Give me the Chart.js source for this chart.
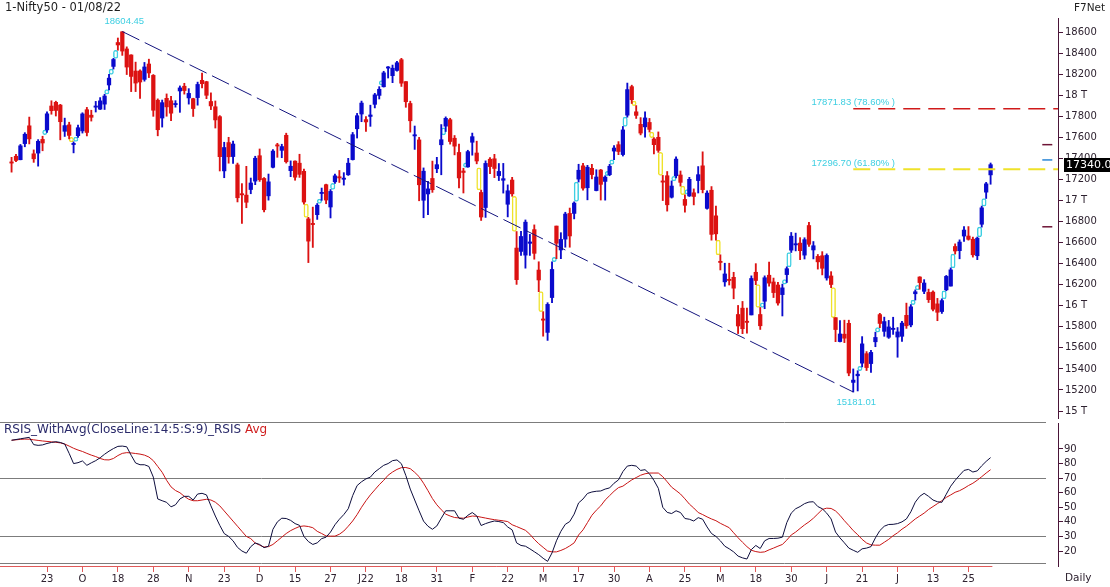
<!DOCTYPE html>
<html lang="en">
<head>
    <meta charset="UTF-8">
    <title>Nifty50 Daily</title>
    <script src="https://cdn.jsdelivr.net/npm/chart.js"></script>
    <style>
        body {
            margin: 0;
            background: #fff;
            font-family: "DejaVu Sans", Verdana, sans-serif;
        }
        #wrap { position: relative; width: 1110px; height: 587px; overflow: hidden; }
        #priceBox { position: absolute; left: 0; top: 0; width: 1110px; height: 422px; }
        #rsiBox { position: absolute; left: 0; top: 422px; width: 1110px; height: 165px; }
    </style>
</head>
<body>
<div id="wrap">
    <div id="priceBox"><canvas id="price"></canvas></div>
    <div id="rsiBox"><canvas id="rsi"></canvas></div>
</div>
<script>
const titleText = '1-Nifty50 - 01/08/22';

// x axis: one slot per trading day, a label every 8 bars
const xTickBars = [8, 16, 24, 32, 40, 48, 56, 64, 72, 80, 88, 96, 104, 112, 120, 128, 136, 144, 152, 160, 168, 176, 184, 192, 200, 208, 216];
const xTickLabels = ['23', 'O', '18', '28', 'N', '23', 'D', '15', '27', 'J22', '18', '31', 'F', '22', 'M', '17', '30', 'A', '25', 'M', '18', '30', 'J', '21', 'J', '13', '25'];

const priceTicks = [15000, 15200, 15400, 15600, 15800, 16000, 16200, 16400, 16600, 16800, 17000, 17200, 17400, 17600, 17800, 18000, 18200, 18400, 18600];
const priceTickLabels = ['15 T', '15200', '15400', '15600', '15800', '16 T', '16200', '16400', '16600', '16800', '17 T', '17200', '17400', '17600', '17800', '18 T', '18200', '18400', '18600'];

const rsiTicks = [20, 30, 40, 50, 60, 70, 80, 90];

const open = [
    17364,17420,17387,17540,17709,17443,17450,17580,17670,17897,
    17932,17906,17657,17718,17531,17615,17661,17862,17810,17886,
    17867,17915,18097,18273,18500,18602,18439,18382,18229,18230,
    18150,18296,18188,17952,17783,17970,17947,17910,18040,18085,
    17974,17967,17977,18141,18128,17940,17890,17796,17281,17550,
    17417,17338,17055,17051,17104,17184,17425,17209,17044,17315,
    17524,17476,17619,17283,17374,17354,17277,16825,16773,16865,
    17066,17150,16938,17177,17220,17201,17244,17388,17681,17821,
    17768,17798,17913,17998,18080,18257,18185,18235,18337,18129,
    17921,17613,17575,17002,17062,17209,17301,17529,17706,17767,
    17591,17456,17280,17319,17553,17451,17076,16933,17392,17396,
    17236,17192,16964,17194,16548,16516,16481,16593,16723,16339,
    15867,15747,16078,16757,16530,16633,16877,16877,17203,17329,
    17121,17305,17094,17289,17181,17245,17469,17530,17436,17810,
    18081,17842,17723,17699,17741,17584,17600,17183,17235,17031,
    17235,17242,17010,17043,17073,17189,17329,16925,17097,16854,
    16415,16227,16248,16270,15917,15977,15845,15913,16318,15917,
    16043,16290,16226,16197,16106,16296,16528,16578,16595,16481,
    16762,16530,16469,16475,16264,16283,15887,15660,15730,15833,
    15272,15335,15455,15545,15451,15658,15916,15757,15701,15775,
    15703,15710,15909,15818,16114,16273,16137,16127,16130,16018,
    15945,16151,16187,16563,16523,16662,16662,16632,16475,16774,
    17079,17243
];
const high = [
    17410,17439,17532,17644,17792,17480,17578,17610,17843,17947,
    17943,17913,17782,17743,17557,17717,17833,17884,17857,17941,
    17977,18009,18197,18350,18543,18604,18459,18384,18314,18241,
    18311,18342,18196,17965,17954,18012,17989,17948,18088,18113,
    18062,17971,18124,18210,18132,18022,17945,17806,17553,17600,
    17564,17355,17160,17324,17213,17420,17489,17217,17251,17484,
    17543,17534,17639,17376,17376,17439,17299,16840,16937,16971,
    17118,17155,17104,17250,17285,17264,17400,17646,17827,17944,
    17797,17905,18017,18081,18227,18272,18286,18321,18350,18129,
    17943,17707,17599,17309,17182,17374,17410,17721,17794,17781,
    17617,17536,17306,17477,17640,17563,17099,17376,17408,17438,
    17351,17352,17148,17220,16705,16706,16815,16678,16768,16418,
    15944,16029,16418,16757,16694,16888,16928,16987,17344,17353,
    17334,17343,17292,17295,17235,17343,17522,17559,17703,18115,
    18095,17901,17787,17842,17779,17597,17651,17238,17275,17186,
    17414,17280,17054,17220,17110,17322,17462,17092,17132,16946,
    16484,16404,16404,16318,16003,16041,15978,16284,16400,15984,
    16284,16415,16263,16223,16205,16370,16696,16690,16647,16646,
    16793,16610,16487,16514,16493,16324,15887,15859,15863,15863,
    15400,15383,15707,15565,15577,15749,15928,15892,15861,15891,
    15793,15852,16025,16011,16151,16276,16248,16158,16141,16070,
    16066,16288,16360,16588,16626,16752,16752,16652,16653,16947,
    17172,17356
];
const low = [
    17269,17368,17386,17510,17537,17362,17326,17472,17646,17819,
    17802,17576,17608,17585,17452,17598,17640,17613,17754,17840,
    17864,17864,18050,18248,18427,18378,18196,18034,18034,17969,
    18133,18167,17799,17614,17697,17800,17757,17886,17837,18010,
    17915,17798,17905,18070,17967,17863,17688,17280,17216,17354,
    17351,16986,16782,16931,17064,17150,17181,16892,17003,17308,
    17410,17406,17355,17226,17192,17219,16966,16410,16554,16820,
    17001,16969,16834,17162,17171,17146,17238,17384,17593,17748,
    17655,17704,17879,17964,18077,18163,18119,18229,18083,17885,
    17649,17485,16997,16836,16866,17077,17264,17244,17655,17535,
    17433,17119,17071,17315,17430,17348,16810,16839,17255,17217,
    17189,17070,16844,17040,16203,16478,16357,16478,16442,16134,
    15711,15671,16029,16447,16447,16556,16556,16825,17175,17097,
    17006,17205,17091,17004,17003,17235,17387,17435,17422,17791,
    17921,17779,17623,17600,17650,17442,17457,16999,16899,17023,
    17215,17136,16889,17038,16958,17071,17072,16917,16623,16623,
    16340,16185,16197,16066,15736,15735,15739,15913,16200,15775,
    15972,16186,16078,16006,15903,16221,16506,16521,16438,16444,
    16564,16445,16348,16293,16243,16172,15659,15657,15650,15335,
    15181,15191,15419,15385,15368,15611,15792,15710,15690,15728,
    15511,15661,15785,15800,16054,16157,16115,16031,15950,15858,
    15927,16142,16187,16491,16446,16610,16623,16462,16438,16747,
    17019,17154
];
const close = [
    17355,17380,17519,17629,17585,17396,17562,17546,17823,17853,
    17855,17748,17711,17618,17532,17691,17822,17646,17790,17895,
    17946,17992,18162,18339,18477,18419,18267,18178,18115,18125,
    18268,18211,17857,17672,17929,17889,17829,17916,18069,18044,
    18017,17873,18102,18109,17999,17898,17765,17416,17503,17415,
    17536,17026,17053,16983,17166,17401,17197,16912,17177,17469,
    17517,17512,17368,17325,17221,17248,16985,16614,16771,16955,
    17073,17004,17086,17234,17214,17204,17354,17625,17805,17925,
    17746,17812,18003,18056,18212,18258,18256,18308,18114,17938,
    17757,17617,17149,17278,17110,17102,17340,17577,17780,17560,
    17516,17214,17266,17464,17606,17375,16843,17352,17322,17304,
    17276,17207,17092,17063,16248,16658,16794,16606,16498,16245,
    15863,16013,16345,16594,16630,16871,16663,16975,17287,17117,
    17316,17246,17223,17153,17222,17325,17498,17465,17670,18053,
    17957,17808,17640,17784,17675,17530,17476,17174,16959,17137,
    17393,17172,16954,17201,17038,17245,17103,17070,16678,16683,
    16411,16302,16240,16167,15808,15782,15842,16259,16240,15810,
    16266,16215,16125,16026,16170,16352,16661,16585,16523,16628,
    16584,16570,16417,16356,16478,16202,15774,15732,15692,15361,
    15294,15350,15638,15413,15557,15699,15832,15850,15799,15780,
    15752,15835,15810,15990,16133,16220,16216,16058,15967,15938,
    16049,16279,16341,16520,16605,16719,16631,16484,16642,16930,
    17158,17340
];

// gap markers: bar where the gap opens, price span of the gap, up (c) or down (y)
const gapBar  = [8, 14, 15, 22, 23, 24, 67, 70, 73, 84, 98, 103, 106, 114, 120, 123, 128, 135, 136, 139, 141, 145, 147, 150, 152, 153, 160, 169, 170, 175, 176, 186, 192, 196, 204, 205, 211, 213, 219, 220];
const gapLow  = [17625, 17557, 17560, 18010, 18197, 18350, 16840, 16971, 17104, 18095, 17622, 17315, 17100, 16705, 15944, 16418, 16990, 17235, 17343, 17703, 17901, 17597, 17238, 17186, 17054, 17060, 16484, 15984, 15984, 16205, 16370, 15887, 15383, 15749, 16011, 16151, 16066, 16360, 16653, 16947];
const gapHigh = [17650, 17585, 17595, 18050, 18248, 18427, 16966, 17001, 17162, 18125, 17690, 17335, 17310, 17040, 16134, 16447, 17175, 17245, 17387, 17791, 17921, 17650, 17457, 17215, 17136, 17066, 16623, 16200, 15992, 16221, 16506, 16172, 15419, 15792, 16054, 16157, 16142, 16491, 16747, 17019];
const gapKind = ['c','y','c','c','c','c','y','c','c','c','c','c','y','y','y','c','c','c','c','c','y','y','y','c','y','c','y','y','c','c','c','y','c','c','c','c','c','c','c','c'];

const peakBar = 25, peakValue = 18604.45;
const lowBar = 190, lowValue = 15181.01;
const fibLevels = [17296.70, 17871.83];
const fibPct = ['61.80%', '78.60%'];
const sideMarks = [17530, 17385, 16750];
const sideMarkColors = ['#6e1436', '#2a86d6', '#6e1436'];

const rsi = [
    96,96.5,97,97.5,98,93,92.5,92.8,93.8,94.5,
    95,94.5,93.4,87,80,80.6,81.8,78.8,80.5,82,
    84,86.4,88.5,90.3,91.8,92,91.5,85.7,80.4,79.2,
    79.2,78,70.7,55.7,54.5,53.4,50.3,51.7,55.7,57.5,
    57.5,55,59.1,59.6,58.5,51,44,37.6,32,30,
    27,22.5,20,18.5,23,25.5,24.5,22.3,23.3,34.9,
    40,42.5,42.3,41,38.8,37.6,30,26.5,24.5,25.6,
    28.5,29.5,33,38,41.8,45,49,58,64.9,67.5,
    69.5,70.7,74.2,76.5,78.8,80,82,82.5,79.9,71.8,
    62.5,55,47.6,40.5,37,34.9,37.2,42.5,47.6,47.6,
    47.6,42.5,41.8,44.5,46.4,44.1,37.5,38.8,39.8,40.6,
    40.2,39.5,36.5,34.5,25.6,23.8,23.3,21.5,19.5,17.5,
    15,12.9,18.7,27,33.5,38.3,40.2,45.3,53,55.7,
    59.5,60.5,61,61.2,62.5,63.3,66.5,68.8,74.5,78.3,
    78.8,78.3,75.3,75.8,73,68.5,63,50,46.5,45.7,
    47.6,46.4,42.3,41.8,40.6,42.9,41.8,36.5,32,30,
    27,23.3,21.5,19.4,16.5,15.3,14.5,21,23.8,21.7,
    27,28.6,28.6,28.8,29.5,39.5,46,49,50.5,52.5,
    53.6,53.8,50.5,49,46,42,33,29,25.6,22,
    20.5,19.1,21.5,22,23,29,34,37,38.2,38.3,
    38.8,40,42,46.9,53.5,57.5,59.6,57.5,55,53.8,
    53.4,59,64.5,68.5,72,75.3,76,74.2,75,78.5,
    81.5,84.1
];
const rsiAvg = [
    96,96.3,96.6,96.8,96.7,96.3,95.9,95.5,95.2,94.9,
    94.6,94.2,93.4,92,90.5,89.3,88.3,87,85.8,84.8,
    83.5,82.6,82.5,83.5,85.5,87,87.5,87.3,86.9,86.5,
    85.8,84.5,82,78,74,68.5,64,61.5,60,57.5,
    55.5,54.5,54.5,55,55.5,55,53.5,51,47.5,44,
    40.5,37,33.5,30,28.5,25.5,24,22.7,23,24.5,
    27,29.5,32,34,35.5,36.8,37.2,36.8,36,33.5,
    32,30.3,30.2,30.2,31.5,33.7,37,40.6,45,50,
    54.5,58.5,62,65.5,68.5,72,74.2,76,77.2,77.3,
    76.5,74,71,66.5,61.4,56,51.7,48.3,45.3,44,
    43,42.7,42.5,43.3,44,43.8,43.2,42.6,42,41.5,
    41.1,40.7,40.2,38,36.8,35.5,34.2,31.5,28,25,
    22.5,20,19.4,19.4,20.4,21.7,23.5,25.6,31,34.5,
    39.5,44.5,48,51,55,58,61,63.5,64.5,66.7,
    68.8,70.4,72,73,73.5,73.5,73.5,71,67.5,63.8,
    61.5,59.1,55.8,52.2,49.5,46.4,45,43.4,42,40.8,
    39,37.5,36,32.5,29.1,26,23,20.5,19.6,19.1,
    19.4,20.8,22,23.3,24.5,27.5,31,33,35.5,37.9,
    40,42.5,45.5,48.5,49.4,49.2,47.5,44.5,40.8,37.5,
    34,31.2,28,25.5,24.2,24,24,26,28,30.5,
    32.5,35,37,39.5,42,44,46,48.5,50.5,52.5,
    54.5,56.8,58.5,60.3,61.4,63,64.9,66.5,68.6,71,
    73.5,75.8
];

// ---- look ----
const RED = '#dc1212';
const BLUE = '#0a0acc';
const CYAN = '#3ecfe2';
const YELLOW = '#efe22a';
const AXIS = '#4a1538';
const TICK = '#2e2230';
const FONT = '"DejaVu Sans", Verdana, sans-serif';

// pixel layout: bar 0 sits at x=11.56, 4.43px per bar, axis line at x=1058
const X_MIN = -11.56 / 4.43;
const X_MAX = (1058 - 11.56) / 4.43;

Chart.defaults.font.family = FONT;
Chart.defaults.animation = false;

// keep tick labels from pushing the plot area around
function noPad(ax) {
    ax.paddingTop = 0;
    ax.paddingBottom = 0;
    ax.paddingLeft = 0;
    ax.paddingRight = 0;
}

const bars = close.map((c, i) => i);
const candleColor = bars.map(i => close[i] >= open[i] ? BLUE : RED);
const wickData = bars.map(i => ({ x: i, y: [low[i], high[i]] }));
const bodyData = bars.map(i => ({ x: i, y: [Math.min(open[i], close[i]), Math.max(open[i], close[i])] }));
const gapData = gapBar.map((b, k) => ({ x: b - 0.5, y: [gapLow[k], gapHigh[k]] }));
const gapColor = gapKind.map(k => k === 'c' ? CYAN : YELLOW);

const priceText = {
    id: 'priceText',
    afterDraw(chart) {
        const { ctx, scales: { x, y } } = chart;
        ctx.save();
        ctx.textBaseline = 'middle';
        ctx.fillStyle = '#1e1e1e';
        ctx.font = '11.5px ' + FONT;
        ctx.fillText(titleText, 5, 8);
        ctx.font = '10.5px ' + FONT;
        ctx.fillText('F7Net', 1074, 8);

        ctx.fillStyle = CYAN;
        ctx.font = '9.5px "Liberation Sans", Arial, sans-serif';
        ctx.textAlign = 'center';
        ctx.fillText(peakValue.toFixed(2), x.getPixelForValue(peakBar) + 2, y.getPixelForValue(peakValue) - 10);
        ctx.fillText(lowValue.toFixed(2), x.getPixelForValue(lowBar) + 3, y.getPixelForValue(lowValue) + 10);
        fibLevels.forEach((v, k) => {
            ctx.fillText(v.toFixed(2) + ' (' + fibPct[k] + ' )', x.getPixelForValue(lowBar), y.getPixelForValue(v) - 6);
        });

        // last close box on the axis
        const last = close[close.length - 1];
        const py = Math.round(y.getPixelForValue(last));
        ctx.fillStyle = '#000';
        ctx.fillRect(1064, py - 7, 46, 14);
        ctx.fillStyle = '#fff';
        ctx.textAlign = 'left';
        ctx.font = '11px ' + FONT;
        ctx.fillText(last.toFixed(1), 1066, py + 0.5);
        ctx.restore();
    }
};

new Chart(document.getElementById('price'), {
    type: 'bar',
    data: {
        datasets: [
            {
                type: 'line',
                data: [{ x: peakBar, y: peakValue }, { x: lowBar, y: lowValue }],
                borderColor: '#14147e', borderWidth: 1, borderDash: [19, 6],
                pointRadius: 0, order: 0
            },
            {
                type: 'line',
                data: [{ x: lowBar, y: fibLevels[1] }, { x: X_MAX, y: fibLevels[1] }],
                borderColor: '#d01a1a', borderWidth: 1.5, borderDash: [17, 8],
                pointRadius: 0, order: 0
            },
            {
                type: 'line',
                data: [{ x: lowBar, y: fibLevels[0] }, { x: X_MAX, y: fibLevels[0] }],
                borderColor: YELLOW, borderWidth: 2, borderDash: [17, 8],
                pointRadius: 0, order: 0
            },
            {
                type: 'scatter',
                data: sideMarks.map(v => ({ x: 233.8, y: v })),
                pointStyle: 'line', pointRadius: 5, pointBorderWidth: 1.5,
                pointBorderColor: sideMarkColors, borderColor: sideMarkColors, order: 0
            },
            {
                data: wickData, backgroundColor: candleColor,
                barThickness: 1.2, stack: 'p', order: 2
            },
            {
                data: bodyData, backgroundColor: candleColor,
                barThickness: 3.6, minBarLength: 1.2, stack: 'p', order: 1
            },
            {
                data: gapData, backgroundColor: '#ffffff', borderColor: gapColor,
                borderWidth: 1.5, borderRadius: 3, borderSkipped: false,
                barThickness: 4.5, minBarLength: 4.5, stack: 'p', order: 3
            }
        ]
    },
    options: {
        responsive: true,
        maintainAspectRatio: false,
        layout: { autoPadding: false, padding: { left: 0, right: 0, top: 18, bottom: 4 } },
        plugins: { legend: { display: false }, tooltip: { enabled: false } },
        scales: {
            x: { type: 'linear', min: X_MIN, max: X_MAX, offset: false, display: false },
            y: {
                type: 'linear', position: 'right', min: 14934, max: 18733, stacked: false,
                afterBuildTicks: ax => { ax.ticks = priceTicks.map(v => ({ value: v })); },
                afterFit: ax => { ax.width = 52; noPad(ax); },
                border: { color: AXIS, width: 1 },
                grid: { drawOnChartArea: false, tickLength: 5, tickColor: AXIS },
                ticks: {
                    autoSkip: false, padding: 2, color: TICK,
                    font: { size: 10 },
                    callback: (v, i) => priceTickLabels[i]
                }
            }
        }
    },
    plugins: [priceText]
});

const rsiDecor = {
    id: 'rsiDecor',
    beforeDatasetsDraw(chart) {
        const { ctx, chartArea, scales: { x, y } } = chart;
        ctx.save();
        ctx.lineWidth = 1;
        ctx.strokeStyle = '#7c7c7c';
        const rows = [chartArea.top - 0.5, Math.round(y.getPixelForValue(70)) + 0.5,
                      Math.round(y.getPixelForValue(30)) + 0.5, chartArea.bottom - 2.5];
        rows.forEach(py => {
            ctx.beginPath(); ctx.moveTo(0, py); ctx.lineTo(1046, py); ctx.stroke();
        });
        ctx.strokeStyle = '#e05a5a';
        ctx.beginPath();
        ctx.moveTo(0, chartArea.bottom + 0.5);
        ctx.lineTo(x.getPixelForValue(close.length - 0.6), chartArea.bottom + 0.5);
        ctx.stroke();
        ctx.restore();
    },
    afterDraw(chart) {
        const { ctx } = chart;
        ctx.save();
        ctx.textBaseline = 'middle';
        ctx.font = '12px ' + FONT;
        const head = 'RSIS_WithAvg(CloseLine:14:5:S:9)_RSIS ';
        ctx.fillStyle = '#2a2a6a';
        ctx.fillText(head, 4, 8);
        ctx.fillStyle = '#d02020';
        ctx.fillText('Avg', 4 + ctx.measureText(head).width, 8);
        ctx.font = '10.5px ' + FONT;
        ctx.fillStyle = TICK;
        ctx.fillText('Daily', 1065, 156);
        ctx.restore();
    }
};

new Chart(document.getElementById('rsi'), {
    type: 'line',
    data: {
        datasets: [
            {
                data: rsiAvg.map((v, i) => ({ x: i, y: v })),
                borderColor: '#c81414', borderWidth: 1, pointRadius: 0, order: 1
            },
            {
                data: rsi.map((v, i) => ({ x: i, y: v })),
                borderColor: '#0c0c3c', borderWidth: 1, pointRadius: 0, order: 0
            }
        ]
    },
    options: {
        responsive: true,
        maintainAspectRatio: false,
        layout: { autoPadding: false, padding: { left: 0, right: 0, top: 1, bottom: 0 } },
        plugins: { legend: { display: false }, tooltip: { enabled: false } },
        scales: {
            x: {
                type: 'linear', min: X_MIN, max: X_MAX, offset: false,
                afterBuildTicks: ax => { ax.ticks = xTickBars.map(v => ({ value: v })); },
                afterFit: ax => { ax.height = 21; noPad(ax); },
                border: { display: false },
                grid: { drawOnChartArea: false, tickLength: 6, tickColor: '#e05a5a' },
                ticks: {
                    autoSkip: false, maxRotation: 0, padding: 1, color: TICK,
                    font: { size: 10 },
                    callback: (v, i) => xTickLabels[i]
                }
            },
            y: {
                type: 'linear', position: 'right', min: 9.71, max: 107.84,
                afterBuildTicks: ax => { ax.ticks = rsiTicks.map(v => ({ value: v })); },
                afterFit: ax => { ax.width = 52; noPad(ax); },
                border: { color: AXIS, width: 1 },
                grid: { drawOnChartArea: false, tickLength: 5, tickColor: AXIS },
                ticks: {
                    autoSkip: false, padding: 1, color: TICK,
                    font: { size: 10 },
                    callback: v => String(v)
                }
            }
        }
    },
    plugins: [rsiDecor]
});
</script>
</body>
</html>
